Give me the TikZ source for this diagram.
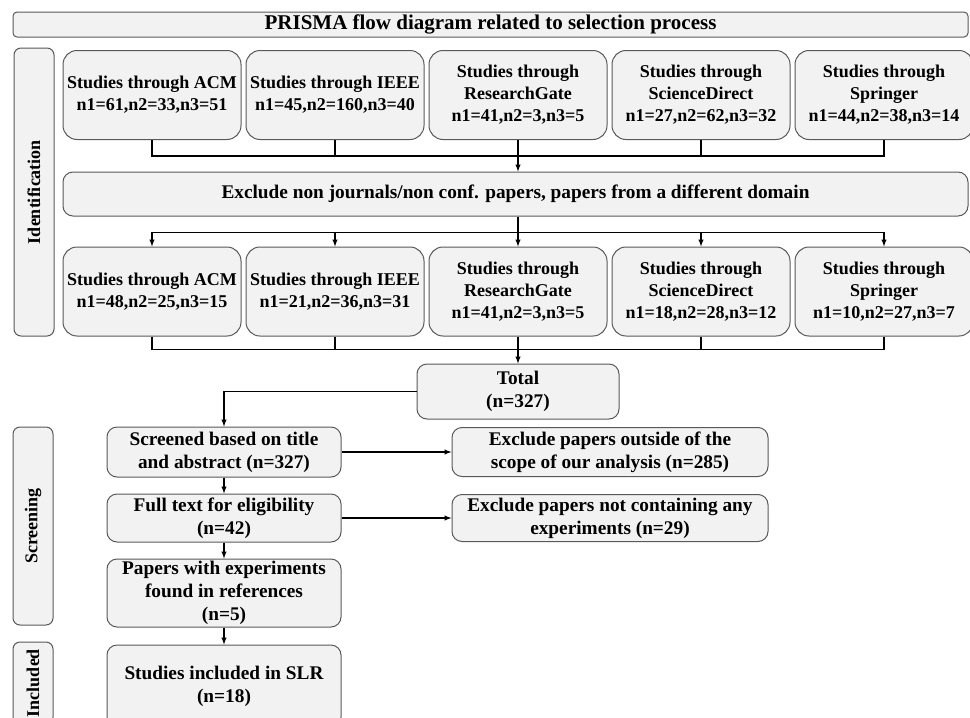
\documentclass[tikz,border=0pt]{standalone}
\usepackage{fontspec}
\setmainfont{Liberation Serif}
\usepackage{tikz}
\usetikzlibrary{positioning, arrows, calc}

\definecolor{boxfill}{HTML}{F2F2F2}
\definecolor{boxline}{HTML}{595959}

\tikzset{
  plainbox/.style={draw=boxline, fill=boxfill, line width=1pt, align=center, inner sep=1pt,
    font=\fontsize{18}{22}\selectfont\bfseries},
  srcbox/.style={plainbox, rounded corners=14pt, minimum width=178pt, minimum height=89pt},
  flowbox/.style={plainbox, rounded corners=10pt, font=\fontsize{19.3}{23}\selectfont\bfseries},
  lblbox/.style={plainbox, rounded corners=7pt, rotate=90, minimum height=40pt},
  wire/.style={line width=1.4pt, black},
  >=latex
}

\begin{document}
\begin{tikzpicture}[x=1pt, y=-1pt]
  \useasboundingbox (0,0) rectangle (970,718);

  \node[plainbox, rounded corners=4pt, minimum width=955pt, minimum height=25pt,
        font=\fontsize{21}{24}\selectfont\bfseries] (title) at (490.5,24.5)
        {PRISMA flow diagram related to selection process};

  \node[lblbox, minimum width=288pt] (ident) at (34,192) {Identification};
  \node[lblbox, minimum width=198pt] (screen) at (33,526) {Screening};
  \node[lblbox, minimum width=82pt] (inc) at (33,683) {Included};

  \node[srcbox] (acm1) at (152,95) {Studies through ACM\\n1=61,n2=33,n3=51};
  \node[srcbox, right=4pt of acm1] (ieee1) {Studies through IEEE\\n1=45,n2=160,n3=40};
  \node[srcbox, right=4pt of ieee1] (rg1) {Studies through\\ResearchGate\\n1=41,n2=3,n3=5};
  \node[srcbox, right=4pt of rg1] (sd1) {Studies through\\ScienceDirect\\n1=27,n2=62,n3=32};
  \node[srcbox, right=4pt of sd1] (spr1) {Studies through\\Springer\\n1=44,n2=38,n3=14};

  \node[flowbox, minimum width=905pt, minimum height=44pt] (excl) at (515.5,194)
        {Exclude non journals/non conf. papers, papers from a different domain};

  \node[srcbox] (acm2) at (152,291.5) {Studies through ACM\\n1=48,n2=25,n3=15};
  \node[srcbox, right=4pt of acm2] (ieee2) {Studies through IEEE\\n1=21,n2=36,n3=31};
  \node[srcbox, right=4pt of ieee2] (rg2) {Studies through\\ResearchGate\\n1=41,n2=3,n3=5};
  \node[srcbox, right=4pt of rg2] (sd2) {Studies through\\ScienceDirect\\n1=18,n2=28,n3=12};
  \node[srcbox, right=4pt of sd2] (spr2) {Studies through\\Springer\\n1=10,n2=27,n3=7};

  \node[flowbox, minimum width=202pt, minimum height=55pt, below=27pt of rg2] (total) {Total\\(n=327)};

  \node[flowbox, minimum width=234pt, minimum height=50pt] (scr) at (224,452) {Screened based on title\\and abstract (n=327)};
  \node[flowbox, minimum width=234pt, minimum height=48pt, below=16pt of scr] (full) {Full text for eligibility\\(n=42)};
  \node[flowbox, minimum width=234pt, minimum height=68pt, below=16pt of full] (refs) {Papers with experiments\\found in references\\(n=5)};
  \node[flowbox, minimum width=234pt, minimum height=82pt, below=17pt of refs] (slr) {Studies included in SLR\\(n=18)};

  \node[flowbox, minimum width=316pt, minimum height=49pt, right=110pt of scr] (ex1) {Exclude papers outside of the\\scope of our analysis (n=285)};
  \node[flowbox, minimum width=316pt, minimum height=47pt, right=110pt of full] (ex2) {Exclude papers not containing any\\experiments (n=29)};

  \coordinate (bus1) at ($(rg1.south)+(0,16)$);
  \draw[wire] (acm1.south) |- (bus1) -| (spr1.south);
  \draw[wire] (ieee1.south) -- (ieee1.south |- bus1);
  \draw[wire] (sd1.south) -- (sd1.south |- bus1);
  \draw[wire,->] (rg1.south) -- (rg1.south |- excl.north);

  \coordinate (bus2) at ($(rg1.south |- excl.south)+(0,16)$);
  \draw[wire] (rg1.south |- excl.south) -- (bus2);
  \draw[wire,->] (bus2) -| (acm2.north);
  \draw[wire,->] (bus2) -| (ieee2.north);
  \draw[wire,->] (bus2) -- (rg2.north);
  \draw[wire,->] (bus2) -| (sd2.north);
  \draw[wire,->] (bus2) -| (spr2.north);

  \coordinate (bus3) at ($(rg2.south)+(0,13)$);
  \draw[wire] (acm2.south) |- (bus3) -| (spr2.south);
  \draw[wire] (ieee2.south) -- (ieee2.south |- bus3);
  \draw[wire] (sd2.south) -- (sd2.south |- bus3);
  \draw[wire,->] (rg2.south) -- (total.north);

  \draw[wire,->] (total.west) -| (scr.north);
  \draw[wire,->] (scr.east) -- (scr.east -| ex1.west);
  \draw[wire,->] (full.east) -- (full.east -| ex2.west);
  \draw[wire,->] (scr.south) -- (full.north);
  \draw[wire,->] (full.south) -- (refs.north);
  \draw[wire,->] (refs.south) -- (slr.north);
\end{tikzpicture}
\end{document}
